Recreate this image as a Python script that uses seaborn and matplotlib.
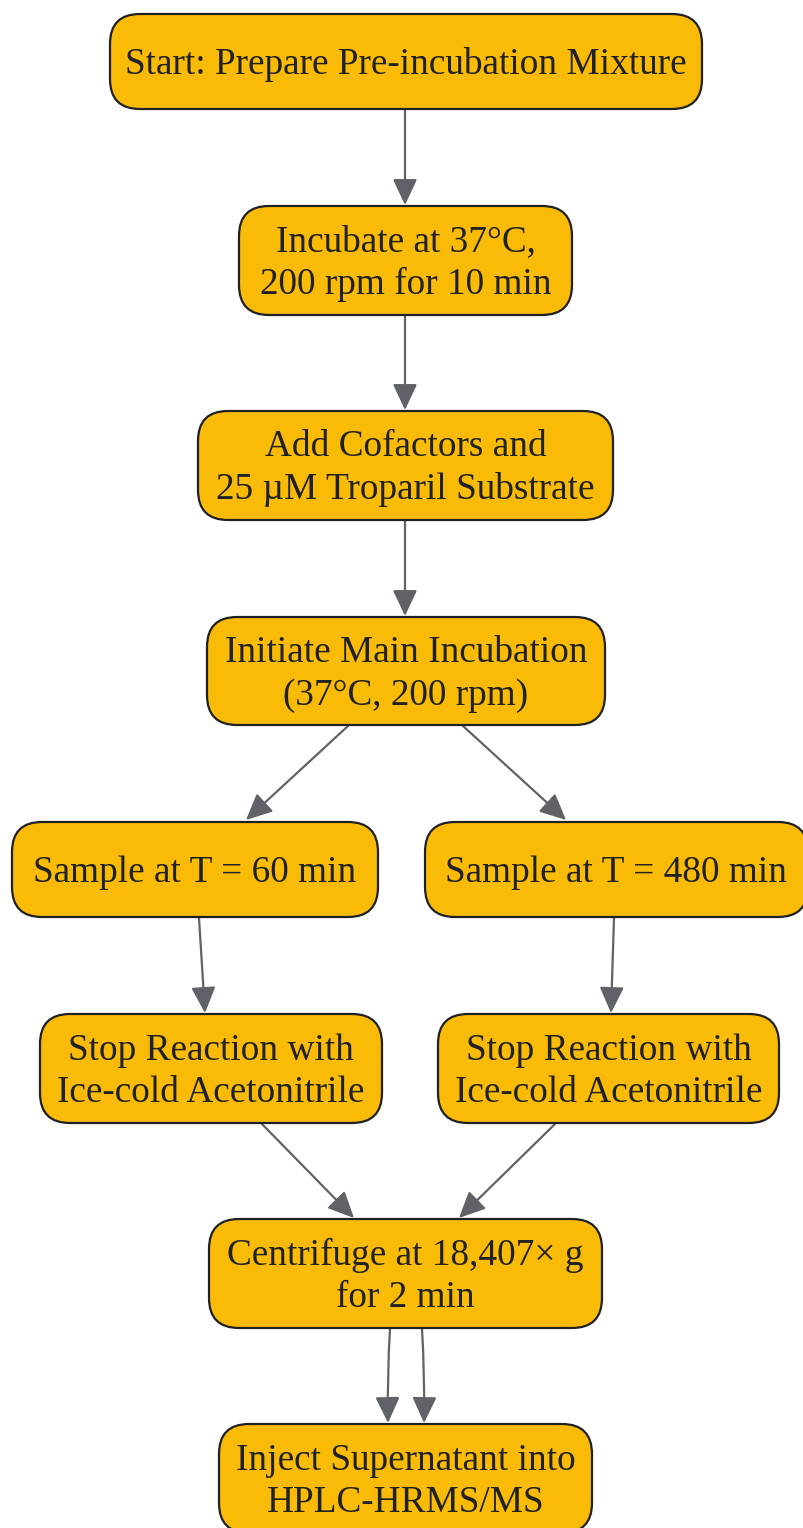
import matplotlib
matplotlib.use("Agg")
import matplotlib.pyplot as plt
import seaborn as sns
from matplotlib.patches import FancyBboxPatch, FancyArrowPatch

# node labels, top to bottom
labels = [
    "Start: Prepare Pre-incubation Mixture",
    "Incubate at 37°C,\n200 rpm for 10 min",
    "Add Cofactors and\n25 µM Troparil Substrate",
    "Initiate Main Incubation\n(37°C, 200 rpm)",
    "Sample at T = 60 min",
    "Sample at T = 480 min",
    "Stop Reaction with\nIce-cold Acetonitrile",
    "Stop Reaction with\nIce-cold Acetonitrile",
    "Centrifuge at 18,407× g\nfor 2 min",
    "Inject Supernatant into\nHPLC-HRMS/MS",
]

# edges (from, to)
edges = [(0, 1), (1, 2), (2, 3), (3, 4), (3, 5), (4, 6), (5, 7), (6, 8), (7, 8), (8, 9), (8, 9)]

# layout in pixels: left, top, right, bottom
boxes = [
    (110, 14, 702, 109),
    (239, 206, 572, 315),
    (198, 411, 613, 520),
    (207, 617, 605, 725),
    (12, 822, 378, 917),
    (425, 822, 808, 917),
    (40, 1014, 382, 1123),
    (438, 1014, 779, 1123),
    (209, 1219, 602, 1328),
    (219, 1424, 592, 1533),
]

# edge endpoints in pixels (start, end, curvature)
edge_paths = [
    ((405, 110), (405, 205), 0.0),
    ((405, 316), (405, 410), 0.0),
    ((405, 521), (405, 616), 0.0),
    ((348, 726), (246, 820), 0.0),
    ((463, 726), (566, 820), 0.0),
    ((199, 918), (205, 1013), 0.0),
    ((614, 918), (611, 1013), 0.0),
    ((262, 1124), (354, 1218), 0.0),
    ((555, 1124), (459, 1218), 0.0),
    ((390, 1329), (388, 1423), 0.02),
    ((422, 1329), (424, 1423), -0.02),
]

FILL = "#F9BB05"
EDGE = "#202124"
ARROW = "#5F6368"

sns.set_theme(style="white")
plt.rcParams["font.family"] = ["Liberation Serif", "DejaVu Serif"]

W, H = 804, 1528
fig = plt.figure(figsize=(W / 100, H / 100), dpi=100)
ax = fig.add_axes([0, 0, 1, 1])
ax.set_xlim(0, W)
ax.set_ylim(H, 0)
ax.axis("off")

for (x0, y0, x1, y1), text in zip(boxes, labels):
    r = 30
    patch = FancyBboxPatch(
        (x0 + r, y0 + r), (x1 - x0) - 2 * r, (y1 - y0) - 2 * r,
        boxstyle=f"round,pad={r},rounding_size={r}",
        facecolor=FILL, edgecolor=EDGE, linewidth=1.6, zorder=2,
    )
    ax.add_patch(patch)
    ax.text((x0 + x1) / 2, (y0 + y1) / 2 + 3, text, ha="center", va="center",
            fontsize=26.8, color=EDGE, linespacing=1.3, zorder=3)

for (a, b), (p0, p1, rad) in zip(edges, edge_paths):
    arr = FancyArrowPatch(
        p0, p1, arrowstyle="-|>,head_length=16,head_width=7.5",
        connectionstyle=f"arc3,rad={rad}", mutation_scale=1,
        color=ARROW, linewidth=1.6, shrinkA=0, shrinkB=0, zorder=1,
    )
    ax.add_patch(arr)

fig.savefig("out.png", dpi=100)
